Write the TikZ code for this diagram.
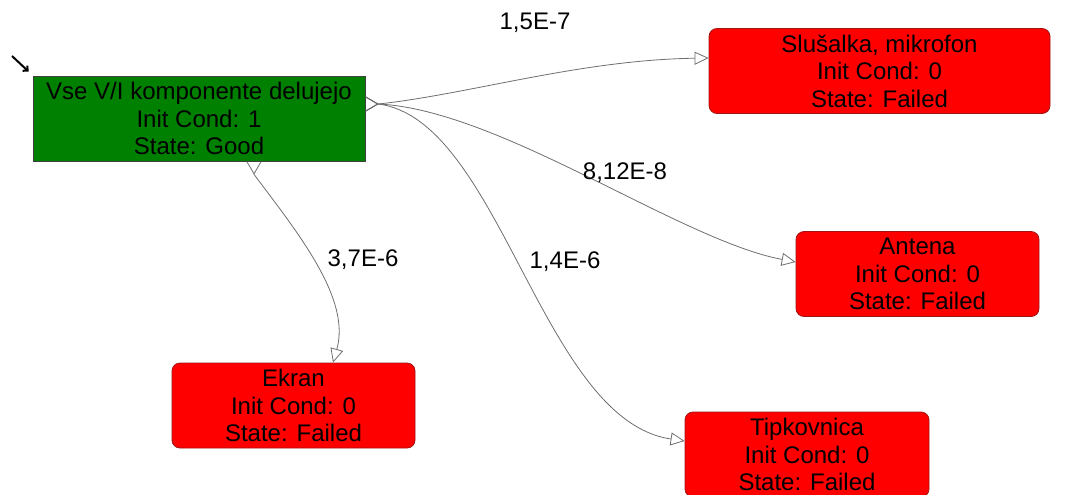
\documentclass[tikz,border=0pt]{standalone}
\usepackage{fontspec}
\setmainfont{Liberation Sans}
\usetikzlibrary{arrows.meta}
\definecolor{stategood}{RGB}{0,128,0}
\definecolor{statefail}{RGB}{255,0,0}
\definecolor{failedge}{RGB}{160,20,20}
\definecolor{wire}{RGB}{110,110,110}
\begin{document}
\begin{tikzpicture}[x=1pt,y=-1pt,
  font=\fontsize{24}{27.5}\selectfont,
  state/.style={rectangle, align=center, inner sep=0pt, minimum height=85pt, text=black},
  good/.style={state, fill=stategood, draw=black!75, line width=0.8pt},
  failed/.style={state, fill=statefail, draw=failedge, line width=0.8pt, rounded corners=8pt},
  trans/.style={draw=wire, line width=0.8pt,
    {Straight Barb[reversed,length=12pt,width=14pt]}-{Triangle[open,length=14pt,width=13pt]}},
  rate/.style={inner sep=1pt},
  initmark/.style={line width=2pt, -{Straight Barb[angle=90:5pt]}}
]
\useasboundingbox (0,0) rectangle (1065,495);

% states
\node[good, minimum width=332pt] (g) at (199,118.5)
  {Vse V/I komponente delujejo\\Init Cond: 1\\State: Good};
\node[failed, minimum width=341pt] (s) at (879.5,71)
  {Slušalka, mikrofon\\Init Cond: 0\\State: Failed};
\node[failed, minimum width=243pt] (a) at (917.5,274)
  {Antena\\Init Cond: 0\\State: Failed};
\node[failed, minimum width=243pt] (e) at (293.5,405.5)
  {Ekran\\Init Cond: 0\\State: Failed};
\node[failed, minimum width=244pt] (t) at (807,454.5)
  {Tipkovnica\\Init Cond: 0\\State: Failed};

% initial-state marker
\coordinate (m) at (12,56);
\draw[initmark] (m) -- ([shift={(-4pt,4pt)}]g.north west);

% transitions
\draw[trans] ([yshift=14.5pt]g.east) -- ++(13,0)
  .. controls +(92,-10) and +(-129,2) .. ([yshift=13pt]s.west);
\draw[trans] ([yshift=14.5pt]g.east) -- ++(13,0)
  .. controls +(122,6) and +(-116,-22) .. ([yshift=12pt]a.west);
\draw[trans] ([yshift=14.5pt]g.east) -- ++(13,0)
  .. controls +(122,16) and +(-143,-21) .. ([yshift=13.5pt]t.west);
\draw[trans] ([xshift=55pt]g.south) -- ++(0,13)
  .. controls +(46,61) and +(18,-63) .. ([xshift=39.5pt]e.north);

% transition rates
\node[rate] (r1) at (535,23) {1,5E-7};
\node[rate] (r2) at (625,173) {8,12E-8};
\node[rate] (r3) at (363,260) {3,7E-6};
\node[rate] (r4) at (565,262) {1,4E-6};
\end{tikzpicture}
\end{document}
